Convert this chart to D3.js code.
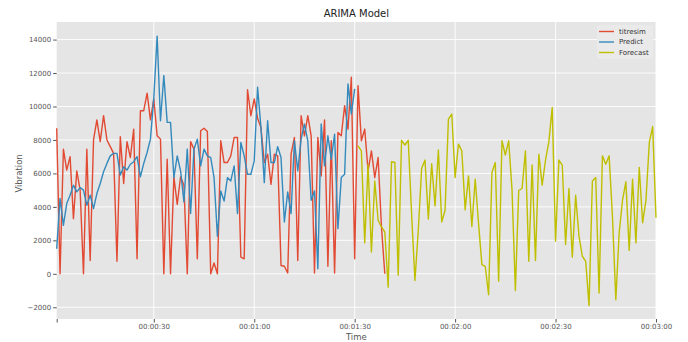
<!DOCTYPE html>
<html>
<head>
<meta charset="utf-8">
<script src="https://cdn.jsdelivr.net/npm/d3@7"></script>
<style>
  body { margin: 0; background: #fff; }
  text { font-family: "DejaVu Sans", sans-serif; }
  .tick text { fill: #555; font-size: 7px; }
  .tick line { stroke: #555; }
  .domain { display: none; }
</style>
</head>
<body>
<div id="vizCanvas"></div>
<script>
// seconds since 00:00:00
let titresimStart = 1;
let titresim = [
  8700, 0, 7450, 6200, 7000, 3300, 6150, 5000, 0, 7450,
  800, 8000, 9200, 7900, 9450, 8000, 7600, 7200, 750, 8200,
  5400, 7900, 6950, 8650, 900, 9750, 9750, 10800, 9200, 10450,
  8250, 8050, 0, 6850, 0, 5800, 4150, 5800, 5300, 0,
  7900, 7450, 900, 8550, 8700, 8500, 0, 650, 0, 7950,
  6650, 6650, 7050, 8150, 8150, 1000, 900, 11000, 9450, 10450,
  9300, 8750, 6650, 7150, 5350, 7150, 7050, 500, 450, 50,
  7150, 8150, 800, 9450, 8250, 9450, 8250, 50, 8150, 5850,
  9200, 450, 7950, 50, 8450, 8250, 10050, 8650, 11750, 900,
  11250, 7950, 8650, 6150, 7350, 5750, 6950, 2800, 0
];

let predictStart = 1;
let predict = [
  1500, 4500, 2900, 4200, 4700, 5300, 4900, 5150, 5000, 4100,
  4700, 3900, 4800, 5400, 6100, 6600, 7050, 7200, 7200, 5900,
  6400, 6200, 6550, 6700, 7000, 5800, 6600, 7250, 8050, 10500,
  14200, 9150, 11850, 9050, 9050, 5750, 7050, 6150, 4300, 7450,
  3600, 7450, 8050, 6450, 7450, 7050, 6950, 5750, 2250, 4950,
  4350, 5750, 5550, 6450, 3600, 7850, 7050, 5950, 5950, 6750,
  11150, 8750, 5450, 9150, 6650, 6650, 7600, 6950, 3100, 4900,
  3600, 7950, 6150, 8050, 8950, 7950, 4400, 4950, 300, 8950,
  6450, 8250, 6850, 8350, 2700, 5750, 5950, 11350, 9550, 11050
];

let forecastStart = 91;
let forecast = [
  7650, 7350, 1850, 6550, 1300, 5550, 3200, 2800, 2500, -800,
  6700, 6650, -80, 7980, 7700, 7980, 3600, -400, 2600, 6300,
  6800, 3280, 6580, 4050, 7400, 3100, 3800, 9250, 9550, 5750,
  7750, 7350, 3820, 5850, 2830, 5650, 3000, 550, 450, -1250,
  6050, 6650, -450, 7950, 7100, 7950, 5000, -1000, 4980, 5100,
  7350, 750, 6500, 800, 7150, 5300, 6800, 7900, 9950, 1950,
  6800, 6500, 1750, 5100, 1000, 4700, 2250, 1050, 750, -1900,
  5550, 5750, -1150, 7050, 6550, 7050, 3400, -1550, 2450, 4400,
  5500, 1400, 5650, 1850, 6350, 3050, 4400, 7850, 8800, 3350
];

let xTicks = [30, 60, 90, 120, 150, 180];
let yTicks = [-2000, 0, 2000, 4000, 6000, 8000, 10000, 12000, 14000];

let seriesNames = ["titresim", "Predict", "Forecast"];
let seriesColors = ["#E24A33", "#348ABD", "#BFBF00"];

function fmtTime(s) {
  let mm = Math.floor(s / 60), ss = s % 60;
  return "00:" + String(mm).padStart(2, "0") + ":" + String(ss).padStart(2, "0");
}

let width = 688, height = 342;
let margin = {top: 22, right: 32, bottom: 23, left: 56.7};
let plotW = width - margin.left - margin.right;
let plotH = height - margin.top - margin.bottom;

let svg = d3.select("#vizCanvas").append("svg")
  .attr("width", width)
  .attr("height", height);

let g = svg.append("g")
  .attr("transform", "translate(" + margin.left + "," + margin.top + ")");

let x = d3.scaleLinear().domain([1, 180]).range([0, plotW]);
let y = d3.scaleLinear().domain([-2700, 15050]).range([plotH, 0]);

// panel background
g.append("rect")
  .attr("width", plotW)
  .attr("height", plotH)
  .attr("fill", "#E5E5E5");

// grid
g.append("g")
  .selectAll("line.hgrid")
  .data(yTicks)
  .enter().append("line")
  .attr("x1", 0).attr("x2", plotW)
  .attr("y1", d => y(d)).attr("y2", d => y(d))
  .attr("stroke", "#fff").attr("stroke-width", 0.9);

g.append("g")
  .selectAll("line.vgrid")
  .data(xTicks)
  .enter().append("line")
  .attr("x1", d => x(d)).attr("x2", d => x(d))
  .attr("y1", 0).attr("y2", plotH)
  .attr("stroke", "#fff").attr("stroke-width", 0.9);

// axes
g.append("g")
  .attr("transform", "translate(0," + plotH + ")")
  .call(d3.axisBottom(x).tickValues([1].concat(xTicks))
    .tickFormat(d => d === 1 ? "" : fmtTime(d))
    .tickSize(3.5).tickPadding(2));

g.append("g")
  .call(d3.axisLeft(y).tickValues(yTicks).tickFormat(d3.format("d"))
    .tickSize(3.5).tickPadding(2));

// lines
let line = d3.line()
  .x(d => x(d.t))
  .y(d => y(d.v));

function toPoints(values, start) {
  return values.map((v, i) => ({t: start + i, v: v}));
}

let allSeries = [
  toPoints(titresim, titresimStart),
  toPoints(predict, predictStart),
  toPoints(forecast, forecastStart)
];

g.selectAll("path.series")
  .data(allSeries)
  .enter().append("path")
  .attr("class", "series")
  .attr("d", line)
  .attr("fill", "none")
  .attr("stroke", (d, i) => seriesColors[i])
  .attr("stroke-width", 1.4)
  .attr("stroke-linejoin", "round");

// title & labels
svg.append("text")
  .attr("x", margin.left + plotW / 2)
  .attr("y", 17)
  .attr("text-anchor", "middle")
  .attr("font-size", 10)
  .attr("fill", "#222")
  .text("ARIMA Model");

svg.append("text")
  .attr("x", margin.left + plotW / 2)
  .attr("y", 340)
  .attr("text-anchor", "middle")
  .attr("font-size", 8.5)
  .attr("fill", "#555")
  .text("Time");

svg.append("text")
  .attr("transform", "translate(22," + (margin.top + y(6000)) + ") rotate(-90)")
  .attr("text-anchor", "middle")
  .attr("font-size", 8.5)
  .attr("fill", "#555")
  .text("Vibration");

// legend
let legend = svg.append("g")
  .attr("transform", "translate(597,25)");

legend.append("rect")
  .attr("width", 56)
  .attr("height", 34)
  .attr("rx", 2)
  .attr("fill", "#EAEAEA");

seriesNames.forEach(function(name, i) {
  let row = legend.append("g")
    .attr("transform", "translate(0," + (6.5 + i * 10.5) + ")");
  row.append("line")
    .attr("x1", 2).attr("x2", 17)
    .attr("stroke", seriesColors[i])
    .attr("stroke-width", 1.4);
  row.append("text")
    .attr("x", 22)
    .attr("dy", "0.35em")
    .attr("font-size", 7)
    .attr("fill", "#333")
    .text(name);
});
</script>
</body>
</html>
